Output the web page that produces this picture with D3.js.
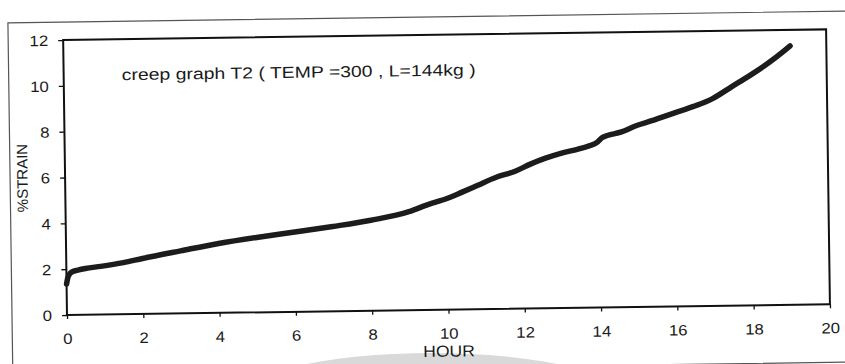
<!DOCTYPE html>
<html>
<head>
<meta charset="utf-8">
<script src="https://cdn.jsdelivr.net/npm/d3@7"></script>
<style>
  html, body { margin: 0; padding: 0; background: #ffffff; }
  svg { display: block; font-family: "Liberation Sans", Arial, sans-serif; }
</style>
</head>
<body>
<svg id="chart" width="845" height="364"></svg>
<script>
// ---- data ----
const hours  = [0, 0.03, 0.08, 0.15, 0.3, 0.5, 0.9, 1.5, 2, 3, 4, 5, 6, 7, 8, 9, 9.5, 10, 10.4, 10.8, 11.3, 11.8, 12.2, 12.6, 13, 13.5, 13.95, 14.1, 14.6, 15, 15.4, 16, 16.5, 17, 17.5, 18, 18.5, 18.9, 19.05];
const strain = [1.35, 1.6, 1.78, 1.88, 1.95, 2.02, 2.1, 2.25, 2.42, 2.73, 3.03, 3.27, 3.48, 3.7, 3.95, 4.3, 4.6, 4.85, 5.12, 5.4, 5.75, 6.0, 6.3, 6.55, 6.75, 6.95, 7.2, 7.42, 7.65, 7.92, 8.12, 8.45, 8.72, 9.05, 9.55, 10.05, 10.6, 11.1, 11.3];
const xTicks = [0, 2, 4, 6, 8, 10, 12, 14, 16, 18, 20];
const yTicks = [0, 2, 4, 6, 8, 10, 12];
const titleText = "creep graph T2 ( TEMP =300 , L=144kg )";
const xLabel = "HOUR";
const yLabel = "%STRAIN";

const svg = d3.select("#chart");
const L = 67, R = 830, T = 40, B = 315;
const x = d3.scaleLinear().domain([0, 20]).range([L, R]);
const y = d3.scaleLinear().domain([0, 12]).range([B, T]);

// scan artifact: faint grey shadow at the bottom
svg.append("ellipse")
  .attr("cx", 432).attr("cy", 400).attr("rx", 195).attr("ry", 47)
  .attr("fill", "#d9d9d9");

// whole page is slightly rotated in the scan
const g = svg.append("g").attr("transform", `rotate(-0.8,${L},${B})`);

// outer chart frame
g.append("rect")
  .attr("x", 12).attr("y", 22).attr("width", 900).attr("height", 351)
  .attr("fill", "none").attr("stroke", "#555").attr("stroke-width", 1.2);

// plot frame
g.append("rect")
  .attr("x", L).attr("y", T).attr("width", R - L).attr("height", B - T)
  .attr("fill", "none").attr("stroke", "#111").attr("stroke-width", 2);

const SX = 1.12;

// x axis
const xa = g.append("g").attr("transform", `translate(0,${B})`)
  .call(d3.axisBottom(x).tickValues(xTicks).tickSize(4).tickFormat(d3.format("d")));
xa.select(".domain").remove();
xa.selectAll(".tick line").attr("stroke", "#111").attr("stroke-width", 1.3);
xa.selectAll(".tick text")
  .attr("y", 29).attr("dy", null)
  .attr("transform", `scale(${SX},1)`)
  .attr("fill", "#1a1a1a")
  .style("font-size", "15px").style("font-family", "Liberation Sans, Arial, sans-serif");

// y axis
const ya = g.append("g").attr("transform", `translate(${L},0)`)
  .call(d3.axisLeft(y).tickValues(yTicks).tickSize(5).tickFormat(d3.format("d")));
ya.select(".domain").remove();
ya.selectAll(".tick line").attr("stroke", "#111").attr("stroke-width", 1.3);
ya.selectAll(".tick text")
  .attr("x", -15 / SX).attr("dy", "0.35em")
  .attr("transform", `scale(${SX},1)`)
  .attr("fill", "#1a1a1a")
  .style("font-size", "15px").style("font-family", "Liberation Sans, Arial, sans-serif");

// axis titles
g.append("text")
  .attr("transform", `translate(${(L + R) / 2},${B + 47}) scale(1.1,1)`)
  .attr("text-anchor", "middle")
  .attr("fill", "#1a1a1a")
  .style("font-size", "16px")
  .text(xLabel);

g.append("text")
  .attr("transform", `translate(29.5,${(T + B) / 2}) rotate(-90)`)
  .attr("text-anchor", "middle")
  .attr("fill", "#1a1a1a")
  .style("font-size", "15px")
  .text(yLabel);

// chart title inside plot
g.append("text")
  .attr("x", 125).attr("y", 81)
  .attr("textLength", 354).attr("lengthAdjust", "spacingAndGlyphs")
  .attr("fill", "#1a1a1a")
  .style("font-size", "16px")
  .text(titleText);

// creep curve
const pts = hours.map((h, i) => [h, strain[i]]);
const line = d3.line().x(d => x(d[0])).y(d => y(d[1])).curve(d3.curveMonotoneX);
g.append("path")
  .datum(pts)
  .attr("d", line)
  .attr("fill", "none")
  .attr("stroke", "#1c1c1c")
  .attr("stroke-width", 5.5)
  .attr("stroke-linecap", "round")
  .attr("stroke-linejoin", "round");
</script>
</body>
</html>
